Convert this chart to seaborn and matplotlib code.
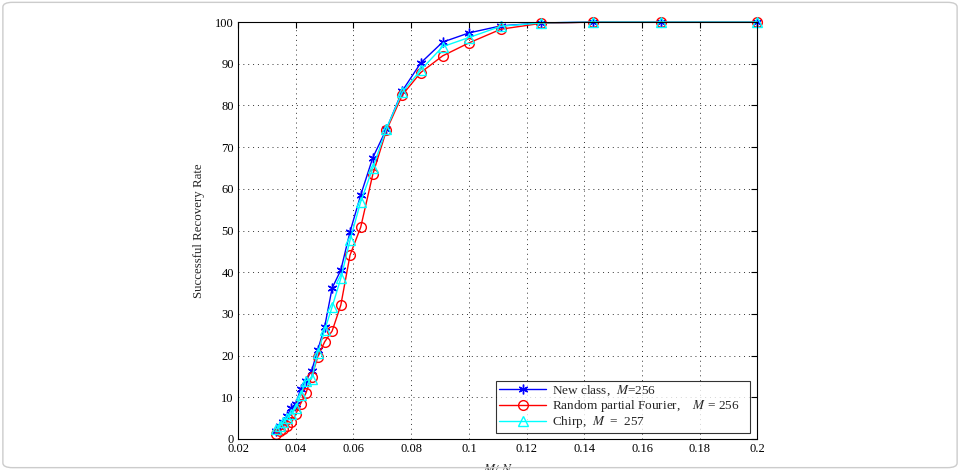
import pandas as pd
import numpy as np
import seaborn as sns
import matplotlib.pyplot as plt
from matplotlib.patches import FancyBboxPatch

# data (x = M/N, y = success rate in %)
m_over_n = [0.0333, 0.0345, 0.0357, 0.0370, 0.0385, 0.0400, 0.0417, 0.0435, 0.0455,
            0.0476, 0.0500, 0.0526, 0.0556, 0.0588, 0.0625, 0.0667, 0.0714, 0.0769,
            0.0833, 0.0909, 0.1000, 0.1111, 0.1250, 0.1429, 0.1667, 0.2000]

new_class = [2.0, 3.0, 4.0, 5.5, 7.5, 8.5, 12.0, 14.0, 16.4, 21.3, 26.9, 36.2, 40.5,
             49.7, 58.5, 67.5, 74.3, 83.5, 90.2, 95.2, 97.4, 99.1, 99.8, 100, 100, 100]
random_fourier = [1.2, 2.0, 2.5, 3.0, 4.0, 6.0, 8.5, 11.0, 14.9, 19.7, 23.3, 25.9, 32.1,
                  44.1, 50.8, 63.5, 74.0, 82.5, 87.9, 91.9, 95.0, 98.3, 99.7, 100, 100, 100]
chirp = [2.5, 3.0, 4.0, 5.0, 6.0, 7.5, 10.5, 14.0, 14.5, 20.6, 26.1, 31.7, 38.5,
         47.7, 56.9, 65.0, 74.4, 83.2, 88.5, 94.1, 96.3, 99.0, 99.8, 100, 100, 100]

labels = ['New class,  $M$=256',
          'Random partial Fourier,    $M$ = 256',
          'Chirp,  $M$  =  257']

x_ticks = [0.02, 0.04, 0.06, 0.08, 0.1, 0.12, 0.14, 0.16, 0.18, 0.2]
x_tick_labels = ['0.02', '0.04', '0.06', '0.08', '0.1', '0.12', '0.14', '0.16', '0.18', '0.2']
y_ticks = [0, 10, 20, 30, 40, 50, 60, 70, 80, 90, 100]

sns.set_style('white')
plt.rcParams['font.family'] = ['Liberation Serif', 'DejaVu Serif']
plt.rcParams['mathtext.fontset'] = 'stix'
plt.rcParams['font.size'] = 9

fig = plt.figure(figsize=(9.6, 4.7), dpi=100)
ax = fig.add_axes([0.248, 0.066, 0.541, 0.887])

# plot the three curves (MATLAB-like markers)
sns.lineplot(x=m_over_n, y=new_class, ax=ax, color='#0000ff', marker=(6, 2, 0),
             markersize=7, markeredgecolor='#0000ff', markeredgewidth=1,
             linewidth=1, label=labels[0], clip_on=False)
sns.lineplot(x=m_over_n, y=random_fourier, ax=ax, color='#ff0000', marker='o',
             markersize=7, markerfacecolor='none', markeredgecolor='#ff0000',
             markeredgewidth=1, linewidth=1, label=labels[1], clip_on=False)
sns.lineplot(x=m_over_n, y=chirp, ax=ax, color='#00ffff', marker='^',
             markersize=7, markerfacecolor='none', markeredgecolor='#00ffff',
             markeredgewidth=1, linewidth=1, label=labels[2], clip_on=False)

ax.set_xlim(0.02, 0.2)
ax.set_ylim(0, 100)
ax.set_xticks(x_ticks)
ax.set_xticklabels(x_tick_labels)
ax.set_yticks(y_ticks)
ax.tick_params(direction='in', top=True, right=True, length=4, width=0.8,
               labelsize=9, colors='black', pad=3)
ax.grid(True, linestyle=(0, (1, 4)), color='black', linewidth=0.7, alpha=0.8)
for s in ax.spines.values():
    s.set_color('black')
    s.set_linewidth(0.8)

ax.set_xlabel('$M$/ $N$', fontsize=9.5, labelpad=6)
ax.set_ylabel('Successful Recovery Rate', fontsize=9.3, labelpad=7)

# legend box stretched to the width it has in the source
leg = ax.legend(loc='lower left', bbox_to_anchor=(0.497, 0.0144, 0.488, 0.1),
                mode='expand', borderaxespad=0, fontsize=9.5, frameon=True,
                fancybox=False, edgecolor='black', borderpad=0.2,
                handlelength=3.6, handletextpad=0.4, labelspacing=0.0)
leg.get_frame().set_linewidth(0.8)

# faint outer border like the source figure
fig.patches.append(FancyBboxPatch((0.003, 0.005), 0.994, 0.99,
                                  boxstyle='round,pad=0,rounding_size=0.01',
                                  transform=fig.transFigure, fill=False,
                                  edgecolor='#cccccc', linewidth=1))

fig.savefig('out.png', dpi=100)
